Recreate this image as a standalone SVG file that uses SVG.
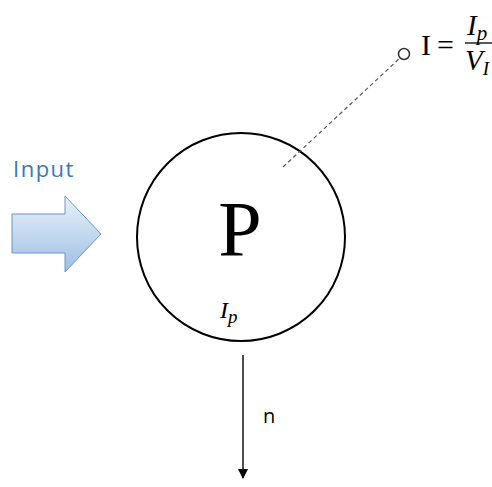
<svg xmlns="http://www.w3.org/2000/svg" width="492" height="487" viewBox="0 0 492 487">
  <style>
    .serif { font-family: "Liberation Serif", "DejaVu Serif", serif; fill: #000; }
    .ital { font-style: italic; }
    .sans { font-family: "Open Sans", "Liberation Sans", sans-serif; }
  </style>
  <defs>
    <linearGradient id="blueGrad" x1="0" y1="0" x2="0" y2="1">
      <stop offset="0" stop-color="#eaf2fb"/>
      <stop offset="1" stop-color="#9dbfe3"/>
    </linearGradient>
    <marker id="arrowHead" markerWidth="10" markerHeight="10" refX="9" refY="5" orient="auto" markerUnits="userSpaceOnUse">
      <path d="M0,0 L10,5 L0,10 Z" fill="#000"/>
    </marker>
  </defs>
  <rect width="492" height="487" fill="#fff"/>

  <g id="input">
    <text x="13" y="177" class="sans" font-size="22" letter-spacing="1.5" fill="#3b78b8">Input</text>
    <polygon points="12,214 65,214 65,196 101,234 65,272 65,253 12,253" fill="url(#blueGrad)" stroke="#6a96c6" stroke-width="1"/>
  </g>

  <g id="node-P">
    <circle cx="241" cy="237" r="104" fill="none" stroke="#000" stroke-width="2"/>
    <text x="240" y="255" class="serif" font-size="78" text-anchor="middle">P</text>
    <text x="220" y="318" class="serif ital" font-size="24">I<tspan font-size="19" dy="5">p</tspan></text>
  </g>

  <g id="connectors">
    <line x1="283" y1="167" x2="400" y2="58" stroke="#555" stroke-width="1.2" stroke-dasharray="4,3"/>
    <line x1="243" y1="355" x2="243" y2="478" stroke="#222" stroke-width="1.6" marker-end="url(#arrowHead)"/>
  </g>

  <g id="terminal-I">
    <circle cx="404" cy="54" r="5.5" fill="#fff" stroke="#333" stroke-width="1.5"/>
    <text x="421" y="55" class="serif" font-size="30">I</text>
    <text x="437" y="55" class="serif" font-size="30">=</text>
    <line x1="465" y1="43" x2="492" y2="43" stroke="#000" stroke-width="1.3"/>
    <text x="467" y="35" class="serif ital" font-size="29">I<tspan font-size="21" dy="5">p</tspan></text>
    <text x="465" y="70" class="serif ital" font-size="29">V<tspan font-size="19" dy="5">I</tspan></text>
  </g>

  <g id="label-n">
    <text x="263" y="423" class="sans" font-size="20" fill="#000">n</text>
  </g>
</svg>
